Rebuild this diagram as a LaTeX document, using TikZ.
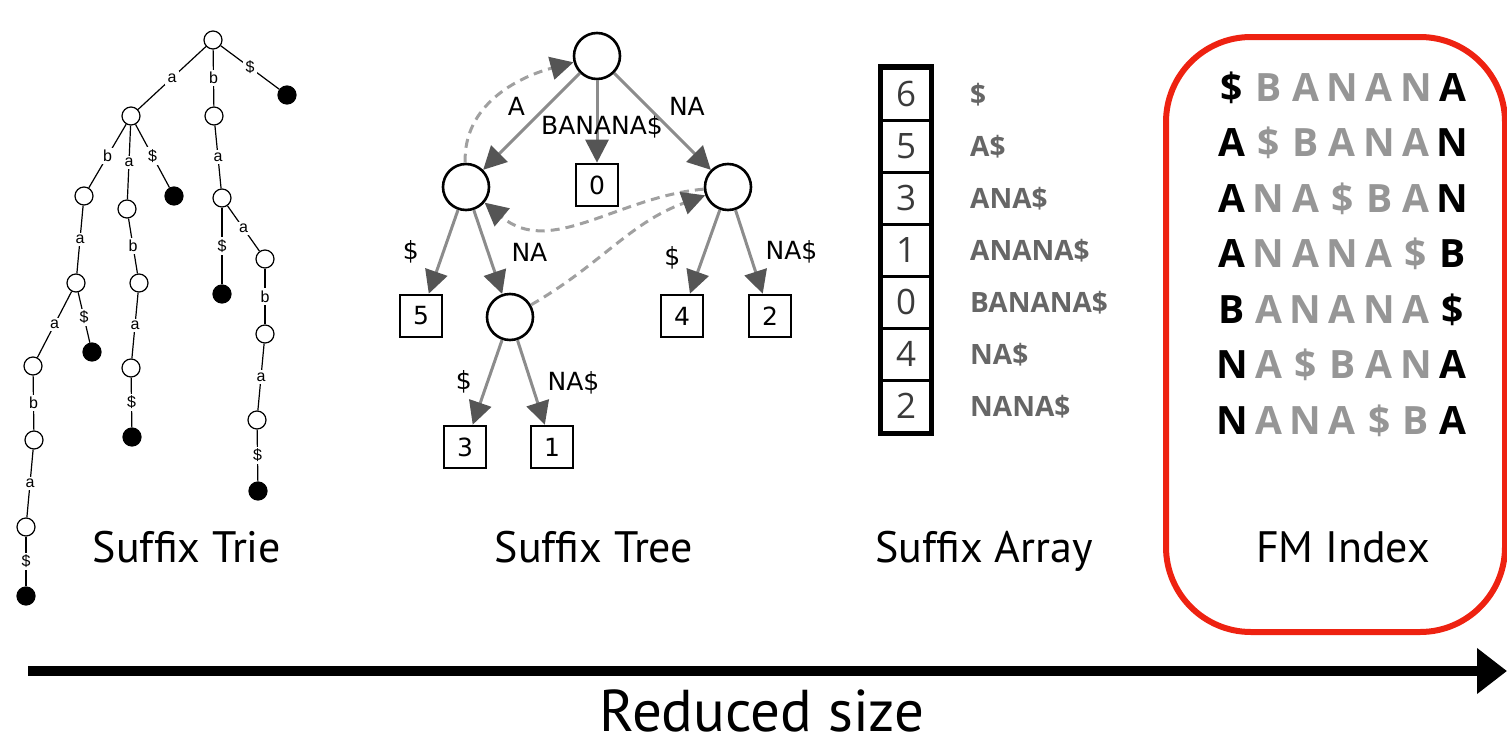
\documentclass[tikz,border=0pt]{standalone}
\usepackage{fontspec}
\usepackage{xcolor}
\usetikzlibrary{arrows.meta}
\setmainfont{Open Sans}
\newfontfamily\titlefont{PT Sans}
\newfontfamily\triefont{Liberation Sans}
\newfontfamily\treefont{DejaVu Sans}
\definecolor{edgegrey}{HTML}{8C8C8C}
\definecolor{tipgrey}{HTML}{555555}
\definecolor{linkgrey}{HTML}{A0A0A0}
\definecolor{arrtext}{HTML}{666666}
\definecolor{digitgrey}{HTML}{3A3A3A}
\definecolor{fmgrey}{HTML}{969696}
\definecolor{boxred}{HTML}{EE2211}

\begin{document}
\begin{tikzpicture}[x=1pt, y=-1pt,
    tnode/.style={circle, draw, line width=1.2pt, minimum size=18pt, inner sep=0pt},
    tleaf/.style={tnode, fill=black},
    tlab/.style={fill=white, inner sep=2.5pt, font=\triefont\fontsize{16}{16}\selectfont},
    tedge/.style={line width=1.2pt},
    snode/.style={circle, draw, line width=2.6pt, minimum size=46pt, inner sep=0pt},
    sbox/.style={draw, line width=2.6pt, minimum size=42pt, inner sep=0pt, font=\treefont\fontsize{25}{25}\selectfont},
    slab/.style={font=\treefont\fontsize{25}{25}\selectfont, inner sep=1pt},
    sedge/.style={line width=3pt, draw=edgegrey, -{Triangle[length=23pt, width=23pt, color=tipgrey]}},
    slink/.style={sedge, draw=linkgrey, dash pattern=on 9pt off 6pt},
    acell/.style={draw, line width=3pt, minimum width=49pt, minimum height=52pt, inner sep=0pt, text=digitgrey, font=\fontsize{35}{35}\selectfont},
    atext/.style={anchor=base west, inner sep=0pt, text=arrtext, font=\bfseries\fontsize{28}{28}\selectfont},
    fmchar/.style={anchor=base, inner sep=0pt, font=\bfseries\fontsize{39}{39}\selectfont},
    title/.style={anchor=base, inner sep=0pt, font=\titlefont\fontsize{44}{44}\selectfont}]
\useasboundingbox (0,0) rectangle (1507,747);

% suffix trie
\node[tnode] (t) at (213,40) {};
\node[tnode] (ta) at (131,116) {};
\node[tnode] (tb) at (214,116) {};
\node[tleaf] (td) at (287,95) {};
\node[tnode] (tab) at (84,196) {};
\node[tnode] (taa) at (127,209) {};
\node[tleaf] (tad) at (174,196) {};
\node[tnode] (taba) at (76,283) {};
\node[tnode] (tabaa) at (33,366) {};
\node[tleaf] (tabad) at (92,352) {};
\node[tnode] (tabaab) at (34,440) {};
\node[tnode] (tabaaba) at (26,527) {};
\node[tleaf] (tabaabad) at (26,596) {};
\node[tnode] (taab) at (139,283) {};
\node[tnode] (taaba) at (131,368) {};
\node[tleaf] (taabad) at (132,437) {};
\node[tnode] (tba) at (222,198) {};
\node[tleaf] (tbad) at (222,294) {};
\node[tnode] (tbaa) at (265,259) {};
\node[tnode] (tbaab) at (265,334) {};
\node[tnode] (tbaaba) at (257,420) {};
\node[tleaf] (tbaabad) at (258,491) {};

\draw[tedge] (t) -- node[tlab] {a} (ta);
\draw[tedge] (t) -- node[tlab] {b} (tb);
\draw[tedge] (t) -- node[tlab] {\$} (td);
\draw[tedge] (ta) -- node[tlab] {b} (tab);
\draw[tedge] (ta) -- node[tlab] {a} (taa);
\draw[tedge] (ta) -- node[tlab] {\$} (tad);
\draw[tedge] (tab) -- node[tlab] {a} (taba);
\draw[tedge] (taba) -- node[tlab] {a} (tabaa);
\draw[tedge] (taba) -- node[tlab] {\$} (tabad);
\draw[tedge] (tabaa) -- node[tlab] {b} (tabaab);
\draw[tedge] (tabaab) -- node[tlab] {a} (tabaaba);
\draw[tedge] (tabaaba) -- node[tlab] {\$} (tabaabad);
\draw[tedge] (taa) -- node[tlab] {b} (taab);
\draw[tedge] (taab) -- node[tlab] {a} (taaba);
\draw[tedge] (taaba) -- node[tlab] {\$} (taabad);
\draw[tedge] (tb) -- node[tlab] {a} (tba);
\draw[tedge] (tba) -- node[tlab] {\$} (tbad);
\draw[tedge] (tba) -- node[tlab] {a} (tbaa);
\draw[tedge] (tbaa) -- node[tlab] {b} (tbaab);
\draw[tedge] (tbaab) -- node[tlab] {a} (tbaaba);
\draw[tedge] (tbaaba) -- node[tlab] {\$} (tbaabad);

% suffix tree
\node[snode] (sroot) at (597,56) {};
\node[snode] (sA) at (466,187) {};
\node[snode] (sNA) at (728,187) {};
\node[sbox] (s0) at (597,185) {0};
\node[sbox] (s5) at (421,316) {5};
\node[snode] (sANA) at (510,317) {};
\node[sbox] (s4) at (682,316) {4};
\node[sbox] (s2) at (770,316) {2};
\node[sbox] (s3) at (465,447) {3};
\node[sbox] (s1) at (552,447) {1};

\draw[sedge] (sroot) -- node[slab, above left=4pt] {A} (sA);
\draw[sedge] (sroot) -- node[slab, pos=0.56, xshift=5pt] {BANANA\$} (s0);
\draw[sedge] (sroot) -- node[slab, above right=4pt] {NA} (sNA);
\draw[sedge] (sA) -- node[slab, left=22pt] {\$} (s5);
\draw[sedge] (sA) -- node[slab, right=21pt] {NA} (sANA);
\draw[sedge] (sNA) -- node[slab, left=22pt, yshift=-6pt] {\$} (s4);
\draw[sedge] (sNA) -- node[slab, right=14pt] {NA\$} (s2);
\draw[sedge] (sANA) -- node[slab, left=13pt] {\$} (s3);
\draw[sedge] (sANA) -- node[slab, right=14pt] {NA\$} (s1);
\draw[slink] (sA) to[out=92, in=195] (sroot);
\draw[slink] (sNA) to[out=185, in=-40] (sA);
\draw[slink] (sANA) to[out=30, in=200] (sNA);

% suffix array
\foreach \n/\s [count=\i] in {6/\$, 5/A\$, 3/ANA\$, 1/ANANA\$, 0/BANANA\$, 4/NA\$, 2/NANA\$} {
    \node[acell] (a\i) at (906, 42+52*\i) {\n};
    \node[atext] (at\i) at (970, 52+52*\i) {\s};
}
\draw[line width=4.5pt] (a1.north west) rectangle (a7.south east);

% FM index
\draw[boxred, line width=6pt, rounded corners=85pt] (1166,37) rectangle (1505,632);
\foreach \row [count=\r] in {{\$,B,A,N,A,N,A}, {A,\$,B,A,N,A,N}, {A,N,A,\$,B,A,N}, {A,N,A,N,A,\$,B},
                             {B,A,N,A,N,A,\$}, {N,A,\$,B,A,N,A}, {N,A,N,A,\$,B,A}} {
    \foreach \c [count=\k] in \row {
        \ifnum\k=1 \def\fmcol{black}\else\ifnum\k=7 \def\fmcol{black}\else\def\fmcol{fmgrey}\fi\fi
        \node[fmchar, text=\fmcol] (fm-\r-\k) at (1232+36.8*\k-36.8, 101+55.5*\r-55.5) {\c};
    }
}

% titles
\node[title] (trie) at (187,562) {Suffix Trie};
\node[title] (tree) at (594,562) {Suffix Tree};
\node[title] (array) at (984,562) {Suffix Array};
\node[title] (fm) at (1343,562) {FM Index};

\coordinate (arrL) at (28,671);
\coordinate (arrR) at (1507,671);
\draw[line width=10pt, -{Triangle[length=30pt, width=44pt]}] (arrL) -- (arrR);
\node[anchor=base, inner sep=0pt, font=\titlefont\fontsize{59}{59}\selectfont] (size) at (762,731) {Reduced size};
\end{tikzpicture}
\end{document}
